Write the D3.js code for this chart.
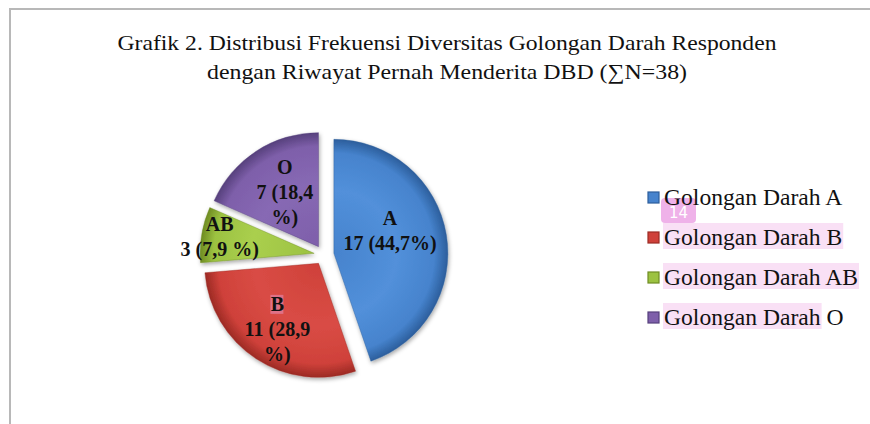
<!DOCTYPE html>
<html>
<head>
<meta charset="utf-8">
<script src="https://cdn.jsdelivr.net/npm/d3@7"></script>
<style>
  html, body { margin: 0; padding: 0; background: #fff; }
  svg { display: block; }
</style>
</head>
<body>
<div id="chart"></div>
<script>
// data
const categories = ["A", "B", "AB", "O"];
const counts = [17, 11, 3, 7];
const labelLines = [
  ["A", "17 (44,7%)"],
  ["B", "11 (28,9", "%)"],
  ["AB", "3 (7,9 %)"],
  ["O", "7 (18,4", "%)"]
];
const legendNames = ["Golongan Darah A", "Golongan Darah B", "Golongan Darah AB", "Golongan Darah O"];
const legendMarked = ["", "Golongan Darah B", "Golongan Darah AB", "Golongan Darah"];
const titleLines = [
  "Grafik 2. Distribusi Frekuensi Diversitas Golongan Darah Responden",
  "dengan Riwayat Pernah Menderita DBD (\u2211N=38)"
];

var width = 870, height = 424;
var cx = 324, cy = 255, radius = 114, explode = 10;

// light, base, dark per slice
var shades = [
  ["#5290da", "#4683cd", "#2c5e9c"],
  ["#d94c45", "#cf413a", "#9c2a24"],
  ["#aacf4e", "#9cc241", "#6f8c22"],
  ["#8769b4", "#7e5faa", "#56407c"]
];

var svg = d3.select("#chart").append("svg")
    .attr("width", width)
    .attr("height", height);

var defs = svg.append("defs");

var shadow = defs.append("filter").attr("id", "shadow")
    .attr("x", "-20%").attr("y", "-20%").attr("width", "140%").attr("height", "140%");
shadow.append("feDropShadow")
    .attr("dx", 1).attr("dy", 2).attr("stdDeviation", 2)
    .attr("flood-color", "#000").attr("flood-opacity", 0.35);

// frame lines
svg.append("line")
    .attr("x1", 10).attr("x2", width).attr("y1", 9).attr("y2", 9)
    .attr("stroke", "#b8b8b8").attr("stroke-width", 2);
svg.append("line")
    .attr("x1", 10).attr("x2", 10).attr("y1", 8).attr("y2", height)
    .attr("stroke", "#b8b8b8").attr("stroke-width", 2);

// title
svg.append("g").selectAll("text")
    .data(titleLines)
    .enter().append("text")
    .attr("x", 447)
    .attr("y", function (d, i) { return 50 + i * 29; })
    .attr("text-anchor", "middle")
    .attr("font-family", "'Liberation Serif', 'Times New Roman', serif")
    .attr("font-size", 21)
    .attr("fill", "#111")
    .attr("textLength", function (d, i) { return i == 0 ? 659 : 480; })
    .attr("lengthAdjust", "spacingAndGlyphs")
    .text(function (d) { return d; });

var pie = d3.pie().sort(null).value(function (d) { return d; });
var arcs = pie(counts);

var arc = d3.arc().innerRadius(0).outerRadius(radius);

function offset(d) {
  var a = (d.startAngle + d.endAngle) / 2;
  return [Math.sin(a) * explode, -Math.cos(a) * explode];
}

// gradients, one per slice, centred on the slice's own vertex (local coords)
arcs.forEach(function (d, i) {
  var g = defs.append("radialGradient")
      .attr("id", "grad" + i)
      .attr("gradientUnits", "userSpaceOnUse")
      .attr("cx", 0).attr("cy", 0).attr("r", radius);
  g.append("stop").attr("offset", "0%").attr("stop-color", shades[i][1]);
  g.append("stop").attr("offset", "55%").attr("stop-color", shades[i][0]);
  g.append("stop").attr("offset", "88%").attr("stop-color", shades[i][1]);
  g.append("stop").attr("offset", "100%").attr("stop-color", shades[i][2]);
});

var pieG = svg.append("g").attr("transform", "translate(" + cx + "," + cy + ")");

pieG.selectAll("path")
    .data(arcs)
    .enter().append("path")
    .attr("transform", function (d) { var o = offset(d); return "translate(" + o[0] + "," + o[1] + ")"; })
    .attr("d", arc)
    .attr("fill", function (d, i) { return "url(#grad" + i + ")"; })
    .attr("stroke", function (d, i) { return shades[i][2]; })
    .attr("stroke-opacity", 0.5)
    .attr("stroke-width", 0.8)
    .attr("filter", "url(#shadow)");

// slice labels, placed along each slice's middle angle
var labelR = [0.5, 0.66, 0.84, 0.54];
var labelShift = [-12, 4, 0, -2];
var lineH = 25;
var fontLabel = "'Liberation Serif', 'Times New Roman', serif";

var labels = pieG.selectAll("g.lab")
    .data(arcs)
    .enter().append("g")
    .attr("class", "lab")
    .attr("transform", function (d, i) {
      var o = offset(d);
      var a = (d.startAngle + d.endAngle) / 2;
      var r = radius * labelR[i];
      return "translate(" + (o[0] + Math.sin(a) * r) + "," + (o[1] - Math.cos(a) * r + labelShift[i]) + ")";
    });

labels.each(function (d, i) {
  var lines = labelLines[i];
  var top = -(lines.length * lineH) / 2 + lineH * 0.72;
  var g = d3.select(this);
  // little highlight behind "B"
  if (categories[i] == "B") {
    g.append("rect")
        .attr("x", -7).attr("y", top - 16)
        .attr("width", 13).attr("height", 19)
        .attr("fill", "#e8a0d8").attr("opacity", 0.45);
  }
  g.selectAll("text")
      .data(lines)
      .enter().append("text")
      .attr("x", 0)
      .attr("y", function (t, j) { return top + j * lineH; })
      .attr("text-anchor", "middle")
      .attr("font-family", fontLabel)
      .attr("font-weight", "bold")
      .attr("font-size", 20)
      .attr("fill", "#111")
      .text(function (t) { return t; });
});

// legend
var legendY = d3.scalePoint().domain(categories).range([197, 317]);
var legendX = 647;
var legendFont = "'Liberation Serif', 'Times New Roman', serif";
var legendSize = 23.6;

var legend = svg.append("g");

// measure the highlighted part of each legend name
var measure = svg.append("text")
    .attr("font-family", legendFont).attr("font-size", legendSize);
var markW = legendMarked.map(function (t) {
  if (!t) return 0;
  measure.text(t);
  return measure.node().getComputedTextLength();
});
measure.remove();

legend.selectAll("rect.mark")
    .data(categories)
    .enter().append("rect")
    .attr("class", "mark")
    .attr("x", legendX + 16)
    .attr("y", function (d) { return legendY(d) - 14; })
    .attr("width", function (d, i) { return markW[i] ? markW[i] + 2 : 0; })
    .attr("height", 26)
    .attr("fill", "#f9e0f5");

legend.selectAll("rect.sw")
    .data(categories)
    .enter().append("rect")
    .attr("class", "sw")
    .attr("x", legendX + 1)
    .attr("y", function (d) { return legendY(d) - 5; })
    .attr("width", 11).attr("height", 11)
    .attr("fill", function (d, i) { return shades[i][1]; })
    .attr("stroke", function (d, i) { return shades[i][2]; })
    .attr("stroke-width", 1.2);

// the "14" tag
legend.append("rect")
    .attr("x", 661).attr("y", 198).attr("width", 35).attr("height", 25).attr("rx", 4)
    .attr("fill", "#efb2e9");

legend.selectAll("text.name")
    .data(legendNames)
    .enter().append("text")
    .attr("class", "name")
    .attr("x", legendX + 17)
    .attr("y", function (d, i) { return legendY(categories[i]) + 8; })
    .attr("font-family", legendFont)
    .attr("font-size", legendSize)
    .attr("fill", "#111")
    .text(function (d) { return d; });

legend.append("text")
    .attr("x", 678.5).attr("y", 218)
    .attr("text-anchor", "middle")
    .attr("font-family", "'DejaVu Sans', sans-serif")
    .attr("font-size", 15)
    .attr("fill", "#fff")
    .text("14");
</script>
</body>
</html>
